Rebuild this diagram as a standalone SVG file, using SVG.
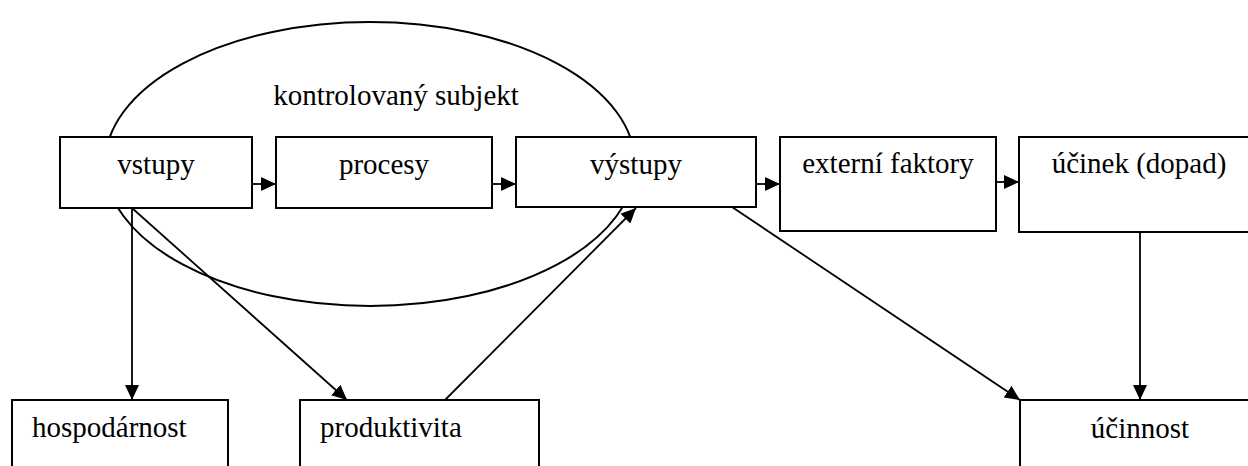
<svg xmlns="http://www.w3.org/2000/svg" width="1248" height="466" viewBox="0 0 1248 466">
<style>
.box{fill:#fff;stroke:#000;stroke-width:2}
.ell{fill:none;stroke:#000;stroke-width:2}
.lbl{font-family:'Liberation Serif','Times New Roman',Tinos,'DejaVu Serif',serif;font-size:29px;fill:#000}
.mid{text-anchor:middle}
.con{stroke:#000;stroke-width:1.8;fill:none;marker-end:url(#ah)}
</style>
<defs>
<marker id="ah" markerUnits="userSpaceOnUse" markerWidth="16" markerHeight="14" refX="15" refY="7" orient="auto">
<path d="M0,0 L15,7 L0,14 z" fill="#000"/>
</marker>
</defs>
<rect width="1248" height="466" fill="#fff"/>
<g id="subjekt">
<ellipse class="ell" cx="370" cy="164" rx="265" ry="142"/>
<text class="lbl mid" font-family="Liberation Serif, serif" x="396" y="105">kontrolovaný subjekt</text>
</g>
<g id="connectors">
<line class="con" x1="252" y1="184" x2="276" y2="184"/>
<line class="con" x1="492" y1="184" x2="516" y2="184"/>
<line class="con" x1="756" y1="184" x2="780" y2="184"/>
<line class="con" x1="996" y1="182" x2="1019" y2="182"/>
<line class="con" x1="132" y1="208" x2="132" y2="400"/>
<line class="con" x1="132" y1="208" x2="347" y2="400"/>
<line class="con" x1="445" y1="400" x2="636" y2="208"/>
<line class="con" x1="732" y1="207" x2="1020" y2="400"/>
<line class="con" x1="1140" y1="232" x2="1140" y2="400"/>
</g>
<g id="vstupy">
<rect class="box" x="60" y="137" width="192" height="71"/>
<text class="lbl mid" font-family="Liberation Serif, serif" x="156" y="174">vstupy</text>
</g>
<g id="procesy">
<rect class="box" x="276" y="137" width="216" height="71"/>
<text class="lbl mid" font-family="Liberation Serif, serif" x="384" y="174">procesy</text>
</g>
<g id="vystupy">
<rect class="box" x="516" y="137" width="240" height="70"/>
<text class="lbl mid" font-family="Liberation Serif, serif" x="636" y="174">výstupy</text>
</g>
<g id="externi">
<rect class="box" x="780" y="137" width="216" height="94"/>
<text class="lbl mid" font-family="Liberation Serif, serif" x="888" y="173">externí faktory</text>
</g>
<g id="ucinek">
<rect class="box" x="1019" y="137" width="242" height="95"/>
<text class="lbl mid" font-family="Liberation Serif, serif" x="1139" y="173">účinek (dopad)</text>
</g>
<g id="hospodarnost">
<rect class="box" x="12" y="400" width="216" height="80"/>
<text class="lbl" font-family="Liberation Serif, serif" x="32" y="437">hospodárnost</text>
</g>
<g id="produktivita">
<rect class="box" x="300" y="400" width="239" height="80"/>
<text class="lbl" font-family="Liberation Serif, serif" x="320" y="437">produktivita</text>
</g>
<g id="ucinnost">
<rect class="box" x="1020" y="400" width="242" height="80"/>
<text class="lbl mid" font-family="Liberation Serif, serif" x="1140" y="438">účinnost</text>
</g>
</svg>
